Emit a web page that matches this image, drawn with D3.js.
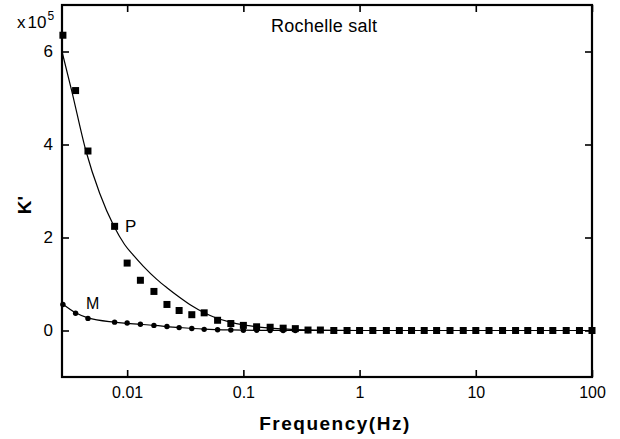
<!DOCTYPE html>
<html>
<head>
<meta charset="utf-8">
<script src="https://cdn.jsdelivr.net/npm/d3@7"></script>
<style>
  html, body { margin: 0; padding: 0; background: #fff; }
  svg { display: block; }
  text { font-family: "Liberation Sans", Arial, sans-serif; fill: #000; }
</style>
</head>
<body>
<svg id="chart" width="620" height="439"></svg>
<script>
// Measurement frequencies (Hz)
const frequencies = [0.0028, 0.0036, 0.0046, 0.0078, 0.010, 0.013, 0.017, 0.022, 0.028, 0.036,
  0.046, 0.060, 0.078, 0.10, 0.13, 0.17, 0.22, 0.28, 0.36, 0.46, 0.60, 0.78, 1.0, 1.3, 1.7, 2.2,
  2.8, 3.6, 4.6, 6.0, 7.8, 10, 13, 17, 22, 28, 36, 46, 60, 78, 100];

// K' in units of 1e5
const kPolydomain = [6.35, 5.16, 3.86, 2.24, 1.45, 1.08, 0.84, 0.56, 0.43, 0.34,
  0.38, 0.22, 0.15, 0.11, 0.08, 0.07, 0.05, 0.04, 0.01, 0.01, 0, 0, 0, 0, 0, 0,
  0, 0, 0, 0, 0, 0, 0, 0, 0, 0, 0, 0, 0, 0, 0];
const kMonodomain = [0.56, 0.37, 0.26, 0.18, 0.16, 0.135, 0.11, 0.086, 0.062, 0.042,
  0.025, 0.015, 0.01, 0.005, 0.003, 0, 0, 0, 0, 0, 0, 0, 0, 0, 0, 0,
  0, 0, 0, 0, 0, 0, 0, 0, 0, 0, 0, 0, 0, 0, 0];

// Fitted curves: [frequency, K']
const fitP = [[0.00275, 6.0], [0.00333, 5.16], [0.00442, 3.86], [0.0058, 2.95], [0.0077, 2.24],
  [0.0095, 1.85], [0.0113, 1.62], [0.0138, 1.38], [0.018, 1.10], [0.022, 0.92], [0.028, 0.72],
  [0.036, 0.53], [0.046, 0.38], [0.057, 0.28], [0.077, 0.18], [0.10, 0.12], [0.13, 0.08],
  [0.21, 0.035], [0.46, 0.008], [1.0, 0], [100, 0]];
const fitM = [[0.00275, 0.58], [0.0036, 0.38], [0.0046, 0.27], [0.0078, 0.18], [0.010, 0.155],
  [0.017, 0.11], [0.028, 0.064], [0.046, 0.03], [0.078, 0.012], [0.13, 0.004], [0.3, 0], [100, 0]];

const xTicks = [0.01, 0.1, 1, 10, 100];
const xTickLabels = ["0.01", "0.1", "1", "10", "100"];
const yTicks = [0, 2, 4, 6];
const yTickLabels = ["0", "2", "4", "6"];

const svg = d3.select("#chart");
const W = 620, H = 439;
const m = { left: 62, right: 28, top: 5, bottom: 62 };

const x = d3.scaleLog().domain([0.00275, 100]).range([m.left, W - m.right]);
const y = d3.scaleLinear().domain([-1, 7]).range([H - m.bottom, m.top]);

const line = d3.line().x(d => x(d[0])).y(d => y(d[1])).curve(d3.curveMonotoneX);

// fitted curves
svg.append("path").datum(fitP).attr("d", line)
  .attr("fill", "none").attr("stroke", "#000").attr("stroke-width", 1.2);
svg.append("path").datum(fitM).attr("d", line)
  .attr("fill", "none").attr("stroke", "#000").attr("stroke-width", 1.2);

// monodomain points (circles)
svg.append("g").selectAll("circle")
  .data(frequencies.map((f, i) => [f, kMonodomain[i]]))
  .join("circle")
  .attr("cx", d => x(d[0])).attr("cy", d => y(d[1])).attr("r", 2.7)
  .attr("fill", "#000");

// polydomain points (squares)
const sq = 7;
svg.append("g").selectAll("rect")
  .data(frequencies.map((f, i) => [f, kPolydomain[i]]))
  .join("rect")
  .attr("x", d => x(d[0]) - sq / 2).attr("y", d => y(d[1]) - sq / 2)
  .attr("width", sq).attr("height", sq).attr("fill", "#000");

// axes with inward ticks
const styleAxis = g => {
  g.select(".domain").remove();
  g.selectAll(".tick line").attr("stroke", "#000").attr("stroke-width", 1.6);
};

svg.append("g").attr("transform", `translate(0,${H - m.bottom})`)
  .call(d3.axisBottom(x).tickValues(xTicks).tickSizeInner(-7).tickSizeOuter(0)
    .tickPadding(10).tickFormat((d, i) => xTickLabels[i]))
  .call(styleAxis)
  .call(g => g.selectAll("text").attr("font-size", 16).attr("font-family", null));

svg.append("g").attr("transform", `translate(0,${m.top})`)
  .call(d3.axisTop(x).tickValues(xTicks).tickSizeInner(-7).tickSizeOuter(0).tickFormat(""))
  .call(styleAxis);

svg.append("g").attr("transform", `translate(${m.left},0)`)
  .call(d3.axisLeft(y).tickValues(yTicks).tickSizeInner(-7).tickSizeOuter(0)
    .tickPadding(9).tickFormat((d, i) => yTickLabels[i]))
  .call(styleAxis)
  .call(g => g.selectAll("text").attr("font-size", 17).attr("font-family", null));

svg.append("g").attr("transform", `translate(${W - m.right},0)`)
  .call(d3.axisRight(y).tickValues(yTicks).tickSizeInner(-7).tickSizeOuter(0).tickFormat(""))
  .call(styleAxis);

// frame
svg.append("rect")
  .attr("x", m.left).attr("y", m.top)
  .attr("width", W - m.left - m.right).attr("height", H - m.top - m.bottom)
  .attr("fill", "none").attr("stroke", "#000").attr("stroke-width", 2.2);

// scale factor label
const sf = svg.append("text").attr("x", 17).attr("y", 28).attr("font-size", 17);
sf.append("tspan").text("x");
sf.append("tspan").attr("dx", 2).text("10");
sf.append("tspan").attr("font-size", 12).attr("dy", -8).attr("dx", 1).text("5");

// title inside the plot
svg.append("text").attr("x", 271).attr("y", 32).attr("font-size", 18)
  .attr("letter-spacing", 0.25).text("Rochelle salt");

// series labels
svg.append("text").attr("x", 125).attr("y", 232).attr("font-size", 17).text("P");
svg.append("text").attr("x", 86).attr("y", 309).attr("font-size", 16).text("M");

// axis titles
svg.append("text").attr("x", 335).attr("y", 430).attr("text-anchor", "middle")
  .attr("font-size", 19).attr("font-weight", "bold").attr("letter-spacing", 1.5)
  .text("Frequency(Hz)");
svg.append("text").attr("transform", "translate(31,205) rotate(-90)")
  .attr("text-anchor", "middle").attr("font-size", 19).attr("font-weight", "bold")
  .text("K'");
</script>
</body>
</html>
